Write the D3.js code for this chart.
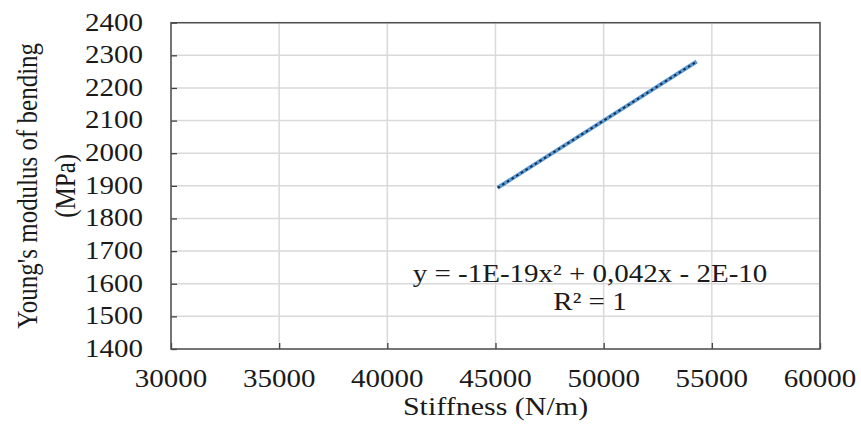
<!DOCTYPE html>
<html>
<head>
<meta charset="utf-8">
<script src="https://cdn.jsdelivr.net/npm/d3@7"></script>
<style>
    body { margin: 0; background: #fff; }
    text { font-family: "Liberation Serif", "Times New Roman", serif; fill: #1a1a1a; }
</style>
</head>
<body>
<svg id="chart" width="861" height="430"></svg>
<script>
// data
var stiffness = [45100, 47500, 50000, 52400, 54300];
var modulus = [1894, 1995, 2100, 2201, 2281];
var x_ticks = [30000, 35000, 40000, 45000, 50000, 55000, 60000];
var y_ticks = [1400, 1500, 1600, 1700, 1800, 1900, 2000, 2100, 2200, 2300, 2400];
var equation_lines = ["y = -1E-19x\u00B2 + 0,042x - 2E-10", "R\u00B2 = 1"];

var svg = d3.select("#chart");
var margin = {top: 22.7, right: 41, bottom: 81, left: 171};
var width = 861 - margin.left - margin.right,
    height = 430 - margin.top - margin.bottom;
var sx = 1.16; // text in the picture is a bit stretched sideways

var x = d3.scaleLinear().domain([30000, 60000]).range([0, width]);
var y = d3.scaleLinear().domain([1400, 2400]).range([height, 0]);

var g = svg.append("g")
    .attr("transform", "translate(" + margin.left + "," + margin.top + ")");

// grid
g.selectAll(".hgrid")
    .data(y_ticks)
    .enter().append("line")
    .attr("x1", 0).attr("x2", width)
    .attr("y1", function(d) { return y(d); })
    .attr("y2", function(d) { return y(d); })
    .style("stroke", "#d9d9d9").style("stroke-width", 1.5);

g.selectAll(".vgrid")
    .data(x_ticks)
    .enter().append("line")
    .attr("y1", 0).attr("y2", height)
    .attr("x1", function(d) { return x(d); })
    .attr("x2", function(d) { return x(d); })
    .style("stroke", "#d9d9d9").style("stroke-width", 1.5);

// axes with inward ticks
var xAxis = g.append("g")
    .attr("transform", "translate(0," + height + ")")
    .call(d3.axisBottom(x).tickValues(x_ticks).tickSize(-6).tickFormat(""));
var yAxis = g.append("g")
    .call(d3.axisLeft(y).tickValues(y_ticks).tickSize(-6).tickFormat(""));
[xAxis, yAxis].forEach(function(a) {
    a.select(".domain").remove();
    a.selectAll("line").style("stroke", "#404040").style("stroke-width", 1.3);
});

// border
g.append("rect")
    .attr("width", width).attr("height", height)
    .style("fill", "none").style("stroke", "#505050").style("stroke-width", 1.5);

// tick labels
g.selectAll(".xlab")
    .data(x_ticks)
    .enter().append("text")
    .attr("transform", function(d) { return "translate(" + x(d) + "," + (height + 38) + ") scale(" + sx + ",1)"; })
    .attr("text-anchor", "middle")
    .style("font-size", "25px")
    .text(function(d) { return d; });

g.selectAll(".ylab")
    .data(y_ticks)
    .enter().append("text")
    .attr("transform", function(d) { return "translate(-28," + (y(d) + 7.8) + ") scale(" + sx + ",1)"; })
    .attr("text-anchor", "end")
    .style("font-size", "25px")
    .text(function(d) { return d; });

// axis titles
g.append("text")
    .attr("transform", "translate(" + (width / 2) + "," + (height + 66) + ") scale(1.2,1)")
    .attr("text-anchor", "middle")
    .style("font-size", "25px")
    .text("Stiffness (N/m)");

var ymid = margin.top + height / 2;
svg.append("text")
    .attr("transform", "translate(37," + ymid + ") scale(" + sx + ",1) rotate(-90)")
    .attr("text-anchor", "middle")
    .style("font-size", "25px")
    .text("Young's modulus of bending");
svg.append("text")
    .attr("transform", "translate(75," + ymid + ") scale(" + sx + ",1) rotate(-90)")
    .attr("text-anchor", "middle")
    .style("font-size", "25px")
    .text("(MPa)");

// data line
var line = d3.line()
    .x(function(d) { return x(d[0]); })
    .y(function(d) { return y(d[1]); });
var pts = d3.zip(stiffness, modulus);

g.append("path")
    .datum(pts)
    .attr("d", line)
    .style("fill", "none")
    .style("stroke", "#5b9bd5")
    .style("stroke-width", 4);

// trendline (least squares over the points)
var mx = d3.mean(stiffness), my = d3.mean(modulus);
var slope = d3.sum(pts, function(p) { return (p[0] - mx) * (p[1] - my); }) /
            d3.sum(pts, function(p) { return (p[0] - mx) * (p[0] - mx); });
var icpt = my - slope * mx;
var ext = d3.extent(stiffness);
g.append("path")
    .datum(ext.map(function(v) { return [v, icpt + slope * v]; }))
    .attr("d", line)
    .style("fill", "none")
    .style("stroke", "#1b2a47")
    .style("stroke-width", 2)
    .style("stroke-dasharray", "2.5,3");

// equation label
g.selectAll(".eq")
    .data(equation_lines)
    .enter().append("text")
    .attr("transform", function(d, i) { return "translate(" + (590 - margin.left) + "," + (282 - margin.top + i * 28) + ") scale(" + sx + ",1)"; })
    .attr("text-anchor", "middle")
    .style("font-size", "25px")
    .text(function(d) { return d; });
</script>
</body>
</html>
